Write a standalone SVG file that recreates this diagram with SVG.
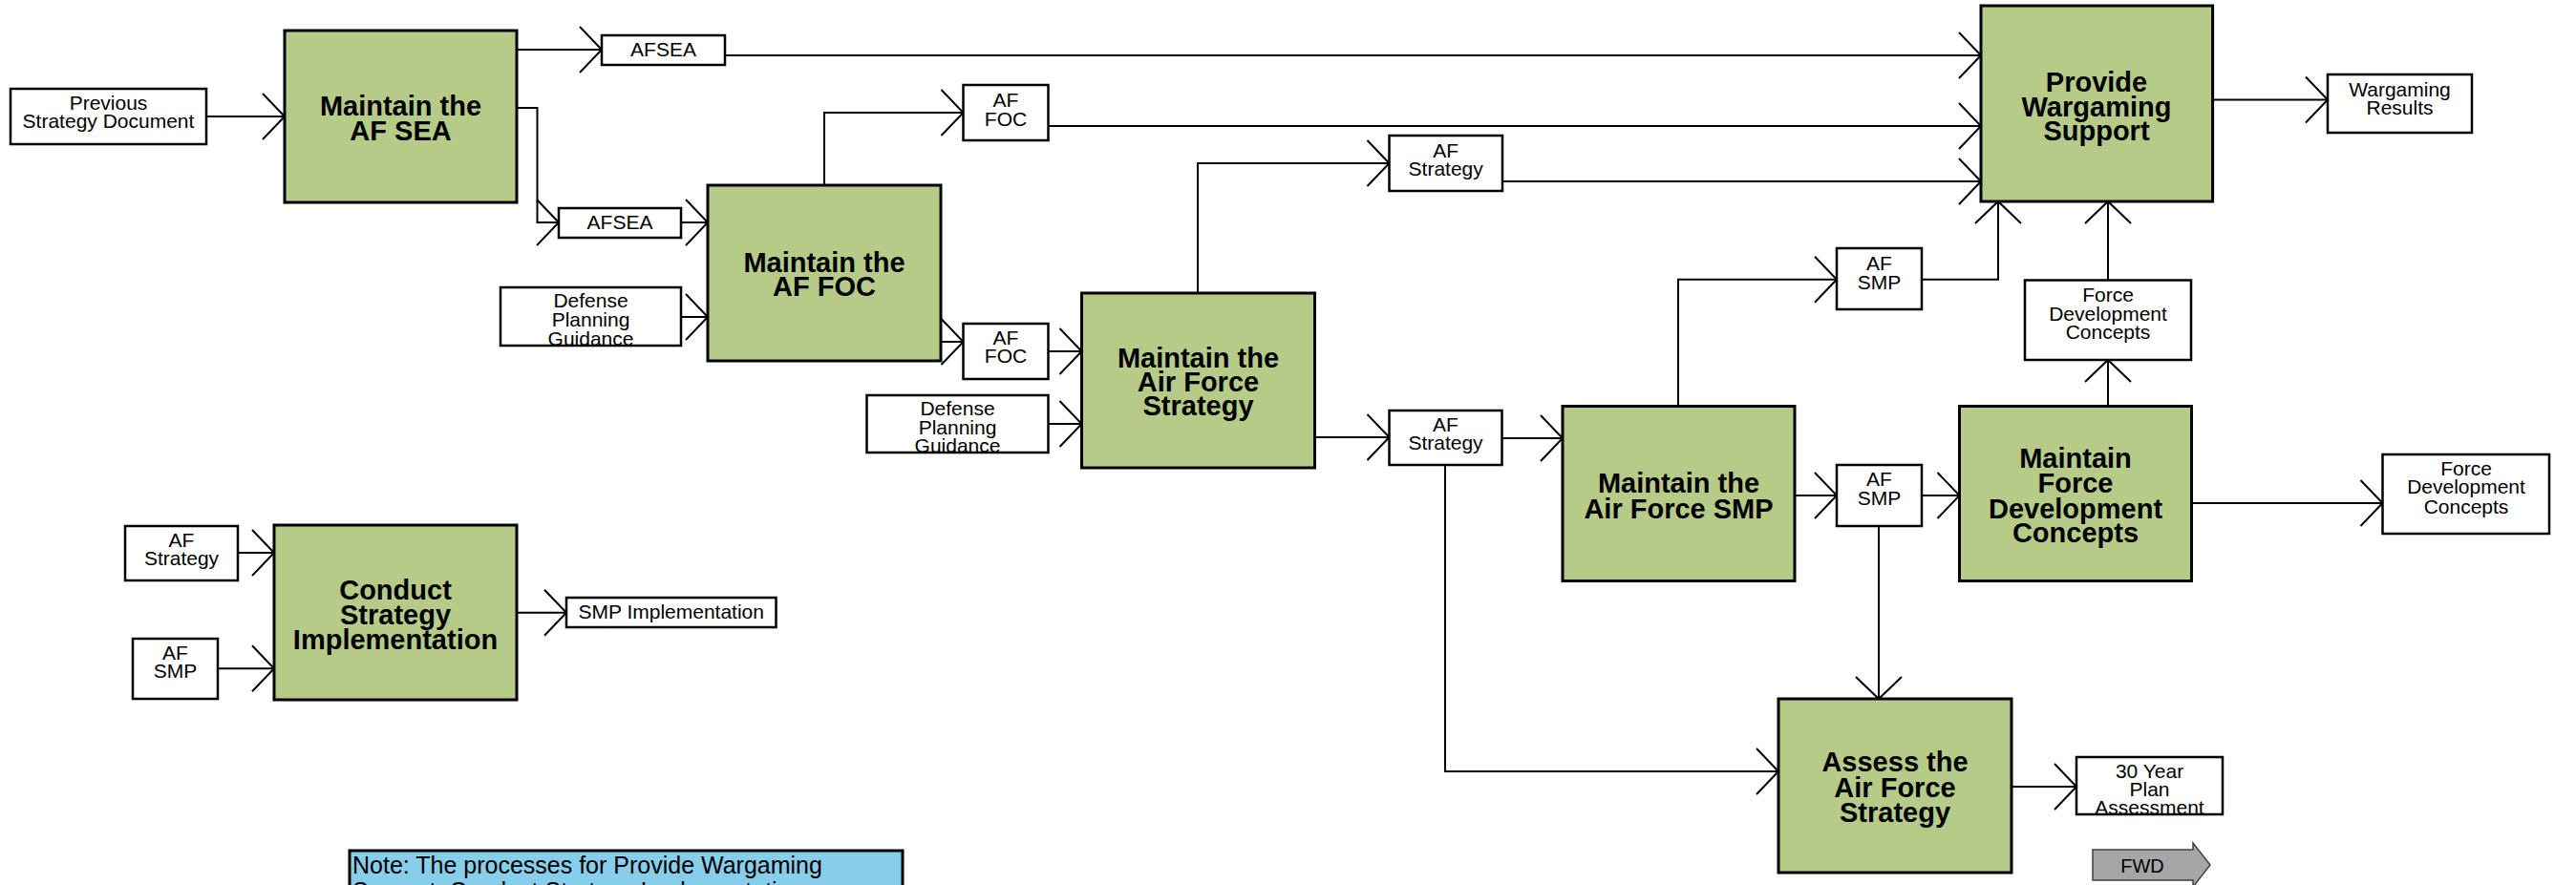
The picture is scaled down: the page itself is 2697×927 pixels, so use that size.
<svg xmlns="http://www.w3.org/2000/svg" width="2697" height="927" viewBox="0 0 2697 927">
<style>
.proc{fill:#b6cb88;stroke:#000;stroke-width:3}
.lbl{fill:#fff;stroke:#000;stroke-width:2.5}
.pt{font-family:"Liberation Sans",Arial,sans-serif;font-weight:bold;font-size:29px;text-anchor:middle;fill:#000}
.lt{font-family:"Liberation Sans",Arial,sans-serif;font-size:21px;text-anchor:middle;fill:#000}
.conn{fill:none;stroke:#000;stroke-width:2;marker-end:url(#ah)}
</style>
<defs>
<marker id="ah" markerUnits="userSpaceOnUse" markerWidth="30" markerHeight="52" viewBox="0 0 30 52" refX="24" refY="25" orient="auto" overflow="visible">
<path d="M1,1 L24,25 L1,49" fill="none" stroke="#000" stroke-width="2"/>
</marker>
<clipPath id="c1"><rect x="524" y="301" width="189" height="60"/></clipPath>
<clipPath id="c2"><rect x="907" y="414" width="190" height="59"/></clipPath>
<clipPath id="c3"><rect x="2174" y="793" width="153" height="59"/></clipPath>
</defs>
<rect width="2697" height="927" fill="#fff"/>

<g id="connectors">
<path class="conn" d="M216,122 H298"/>
<path class="conn" d="M541,52 H630"/>
<path class="conn" d="M759,58 H2074"/>
<path class="conn" d="M541,113 H562.5 V233 H585"/>
<path class="conn" d="M713,233 H741"/>
<path class="conn" d="M713,332 H741"/>
<path class="conn" d="M863,194 V118 H1008.5"/>
<path class="conn" d="M1097.5,132 H2074"/>
<path class="conn" d="M985,358 H1008.5"/>
<path class="conn" d="M1097.5,368 H1132.5"/>
<path class="conn" d="M1097.5,444 H1132.5"/>
<path class="conn" d="M1254,307 V171 H1454.5"/>
<path class="conn" d="M1573,190 H2074"/>
<path class="conn" d="M1376.5,458 H1454.5"/>
<path class="conn" d="M1573,459 H1636"/>
<path class="conn" d="M1513,487 V808 H1862"/>
<path class="conn" d="M1757,425.5 V292.7 H1923"/>
<path class="conn" d="M2012,292.7 H2092 V211"/>
<path class="conn" d="M1879,519 H1923"/>
<path class="conn" d="M2011.6,519 H2051.5"/>
<path class="conn" d="M1967,551 V732"/>
<path class="conn" d="M2207,425.5 V377"/>
<path class="conn" d="M2207,293.5 V211"/>
<path class="conn" d="M2294.5,527 H2494.5"/>
<path class="conn" d="M2316.6,104.5 H2437"/>
<path class="conn" d="M2106,824 H2174"/>
<path class="conn" d="M249,579 H287"/>
<path class="conn" d="M227.7,700.3 H287"/>
<path class="conn" d="M541,641.7 H593"/>
</g>

<g id="maintain-af-sea">
<rect class="proc" x="298" y="32" width="243" height="180"/>
<text class="pt" x="419.5" y="121">Maintain the</text>
<text class="pt" x="419.5" y="147">AF SEA</text>
</g>
<g id="maintain-af-foc">
<rect class="proc" x="741" y="194" width="244" height="184"/>
<text class="pt" x="863" y="285">Maintain the</text>
<text class="pt" x="863" y="310">AF FOC</text>
</g>
<g id="maintain-af-strategy">
<rect class="proc" x="1132.5" y="307" width="244" height="183"/>
<text class="pt" x="1254.5" y="385">Maintain the</text>
<text class="pt" x="1254.5" y="410">Air Force</text>
<text class="pt" x="1254.5" y="435">Strategy</text>
</g>
<g id="provide-wargaming-support">
<rect class="proc" x="2074" y="6" width="242.6" height="205"/>
<text class="pt" x="2195" y="96">Provide</text>
<text class="pt" x="2195" y="122">Wargaming</text>
<text class="pt" x="2195" y="147">Support</text>
</g>
<g id="maintain-af-smp">
<rect class="proc" x="1636" y="425.5" width="243" height="183"/>
<text class="pt" x="1757.5" y="516">Maintain the</text>
<text class="pt" x="1757.5" y="543">Air Force SMP</text>
</g>
<g id="maintain-fdc">
<rect class="proc" x="2051.5" y="425.5" width="243" height="183"/>
<text class="pt" x="2173" y="490">Maintain</text>
<text class="pt" x="2173" y="516">Force</text>
<text class="pt" x="2173" y="543">Development</text>
<text class="pt" x="2173" y="568">Concepts</text>
</g>
<g id="assess-af-strategy">
<rect class="proc" x="1862" y="732" width="244" height="182"/>
<text class="pt" x="1984" y="808">Assess the</text>
<text class="pt" x="1984" y="834.5">Air Force</text>
<text class="pt" x="1984" y="860.5">Strategy</text>
</g>
<g id="conduct-strategy-implementation">
<rect class="proc" x="287" y="550" width="254" height="183"/>
<text class="pt" x="414" y="628">Conduct</text>
<text class="pt" x="414" y="654">Strategy</text>
<text class="pt" x="414" y="680">Implementation</text>
</g>

<g id="previous-strategy-document">
<rect class="lbl" x="11" y="93" width="205" height="58"/>
<text class="lt" x="113.5" y="115">Previous</text>
<text class="lt" x="113.5" y="134">Strategy Document</text>
</g>
<g id="afsea-1">
<rect class="lbl" x="630" y="37" width="129" height="31"/>
<text class="lt" x="694.5" y="59">AFSEA</text>
</g>
<g id="afsea-2">
<rect class="lbl" x="585" y="218" width="128" height="31"/>
<text class="lt" x="649" y="240">AFSEA</text>
</g>
<g id="dpg-1">
<rect class="lbl" x="524" y="301" width="189" height="61"/>
<g clip-path="url(#c1)">
<text class="lt" x="618.5" y="322">Defense</text>
<text class="lt" x="618.5" y="342">Planning</text>
<text class="lt" x="618.5" y="362">Guidance</text>
</g>
</g>
<g id="af-foc-1">
<rect class="lbl" x="1008.5" y="89" width="89" height="58"/>
<text class="lt" x="1053" y="112">AF</text>
<text class="lt" x="1053" y="132">FOC</text>
</g>
<g id="af-foc-2">
<rect class="lbl" x="1008.5" y="339" width="89" height="58"/>
<text class="lt" x="1053" y="361">AF</text>
<text class="lt" x="1053" y="380">FOC</text>
</g>
<g id="dpg-2">
<rect class="lbl" x="907.5" y="414" width="190" height="60"/>
<g clip-path="url(#c2)">
<text class="lt" x="1002.5" y="435">Defense</text>
<text class="lt" x="1002.5" y="455">Planning</text>
<text class="lt" x="1002.5" y="474">Guidance</text>
</g>
</g>
<g id="af-strategy-1">
<rect class="lbl" x="1454.5" y="142" width="118.5" height="58"/>
<text class="lt" x="1513.7" y="165">AF</text>
<text class="lt" x="1513.7" y="184">Strategy</text>
</g>
<g id="af-strategy-2">
<rect class="lbl" x="1454.5" y="430" width="118" height="57"/>
<text class="lt" x="1513.5" y="452">AF</text>
<text class="lt" x="1513.5" y="471">Strategy</text>
</g>
<g id="af-smp-1">
<rect class="lbl" x="1923" y="260" width="89" height="64"/>
<text class="lt" x="1967.5" y="283">AF</text>
<text class="lt" x="1967.5" y="303">SMP</text>
</g>
<g id="af-smp-2">
<rect class="lbl" x="1923" y="487" width="89" height="64"/>
<text class="lt" x="1967.5" y="509">AF</text>
<text class="lt" x="1967.5" y="529">SMP</text>
</g>
<g id="wargaming-results">
<rect class="lbl" x="2437" y="78" width="151" height="61"/>
<text class="lt" x="2512.5" y="101">Wargaming</text>
<text class="lt" x="2512.5" y="120">Results</text>
</g>
<g id="fdc-mid">
<rect class="lbl" x="2120" y="293.5" width="174" height="83.5"/>
<text class="lt" x="2207" y="316">Force</text>
<text class="lt" x="2207" y="335.6">Development</text>
<text class="lt" x="2207" y="355">Concepts</text>
</g>
<g id="fdc-right">
<rect class="lbl" x="2494.5" y="476" width="174.5" height="83"/>
<text class="lt" x="2582" y="497.5">Force</text>
<text class="lt" x="2582" y="517">Development</text>
<text class="lt" x="2582" y="537.7">Concepts</text>
</g>
<g id="thirty-year-plan">
<rect class="lbl" x="2174" y="793" width="153" height="60"/>
<g clip-path="url(#c3)">
<text class="lt" x="2250.5" y="815">30 Year</text>
<text class="lt" x="2250.5" y="834">Plan</text>
<text class="lt" x="2250.5" y="853">Assessment</text>
</g>
</g>
<g id="af-strategy-left">
<rect class="lbl" x="131" y="551" width="118" height="57"/>
<text class="lt" x="190" y="572.7">AF</text>
<text class="lt" x="190" y="591.7">Strategy</text>
</g>
<g id="af-smp-left">
<rect class="lbl" x="139" y="669" width="89" height="63"/>
<text class="lt" x="183.4" y="690.7">AF</text>
<text class="lt" x="183.4" y="710">SMP</text>
</g>
<g id="smp-implementation">
<rect class="lbl" x="593" y="626" width="219.5" height="31"/>
<text class="lt" x="702.7" y="648">SMP Implementation</text>
</g>
<g id="note">
<rect x="366" y="891" width="579" height="70" fill="#87ceeb" stroke="#000" stroke-width="3"/>
<text x="369" y="915" font-family="Liberation Sans, Arial, sans-serif" font-size="25">Note: The processes for Provide Wargaming</text>
<text x="369" y="942" font-family="Liberation Sans, Arial, sans-serif" font-size="25">Support, Conduct Strategy Implementation</text>
</g>
<g id="fwd">
<polygon points="2191,890 2296,890 2296,883 2314,906 2296,929 2296,922 2191,922" fill="#a6a6a6" stroke="#404040" stroke-width="1.5"/>
<text x="2243" y="914" font-family="Liberation Sans, Arial, sans-serif" font-size="20" text-anchor="middle">FWD</text>
</g>
</svg>
